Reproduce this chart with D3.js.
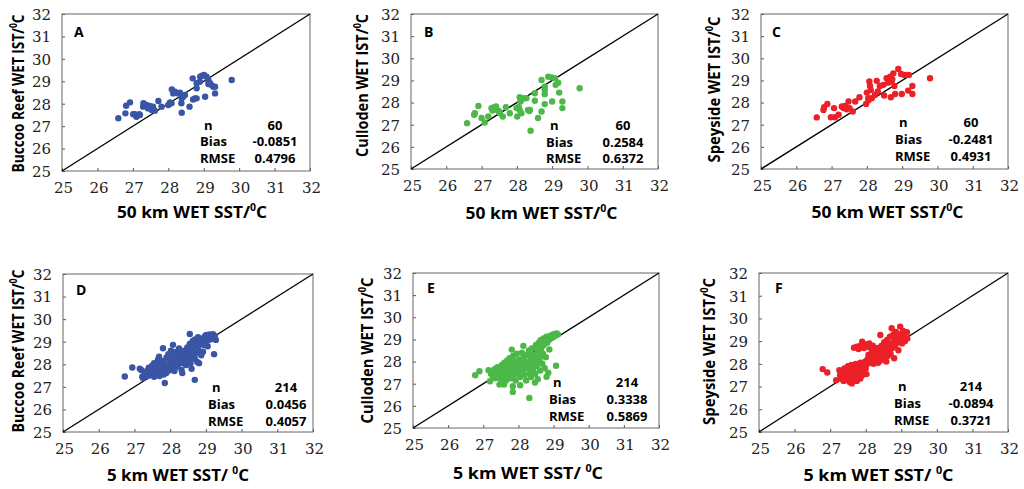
<!DOCTYPE html>
<html>
<head>
<meta charset="utf-8">
<script src="https://cdn.jsdelivr.net/npm/d3@7"></script>
<style>
  body { margin:0; background:#fff; }
  .lab { font-family:"Open Sans", sans-serif; font-weight:bold; fill:#000; }
</style>
</head>
<body>
<div class="canvas"></div>
<script>
/* scatter of in situ vs satellite WET temperatures, 6 panels */

var ticks = [25,26,27,28,29,30,31,32];
var letters = ["A","B","C","D","E","F"];
var yTitles = ["Buccoo Reef WET IST/","Culloden WET IST/","Speyside WET IST/",
               "Buccoo Reef WET IST/","Culloden WET IST/","Speyside WET IST/"];
var xTitles = ["50 km WET SST/","50 km WET SST/","50 km WET SST/",
               "5 km WET SST/ ","5 km WET SST/ ","5 km WET SST/ "];
var nVals = ["60","60","60","214","214","214"];
var biasVals = ["-0.0851","0.2584","-0.2481","0.0456","0.3338","-0.0894"];
var rmseVals = ["0.4796","0.6372","0.4931","0.4057","0.5869","0.3721"];
var colors = ["#3a55a5","#4cb849","#ec2027","#3a55a5","#4cb849","#ec2027"];

var ptsA = [[26.59,27.35],[26.79,27.57],[26.81,27.91],[26.92,28.06],[27.01,27.53],[27.05,27.53],
  [27.10,27.42],[27.18,27.53],[27.20,27.50],[27.30,28.02],[27.29,27.87],[27.34,27.95],[27.39,27.94],
  [27.43,27.79],[27.48,27.82],[27.48,27.90],[27.53,27.72],[27.58,27.72],[27.57,27.87],[27.62,27.69],
  [27.72,28.12],[27.81,27.87],[28.00,27.94],[28.05,28.06],[28.09,28.02],[28.10,28.64],[28.14,28.46],
  [28.19,28.54],[28.28,28.46],[28.33,28.49],[28.38,28.24],[28.38,27.60],[28.37,28.02],[28.42,28.31],
  [28.47,28.39],[28.60,27.87],[28.69,29.13],[28.70,28.19],[28.75,28.24],[28.80,28.69],[28.80,28.91],
  [28.80,28.24],[28.90,29.20],[28.89,28.98],[29.01,29.28],[29.04,28.31],[28.95,29.25],[29.08,29.20],
  [29.13,29.06],[29.13,28.88],[29.18,28.91],[29.22,28.83],[29.27,28.76],[29.32,28.46],[29.32,28.76],
  [29.79,29.06]];

var ptsB = [[26.59,27.07],[26.79,27.45],[26.81,27.52],[26.91,27.85],[27.00,27.30],[27.09,27.10],
  [27.19,27.37],[27.28,27.75],[27.31,27.64],[27.35,27.79],[27.41,27.82],[27.47,27.63],[27.52,27.52],
  [27.60,27.37],[27.69,27.79],[27.80,27.52],[27.99,27.75],[28.01,27.37],[28.08,27.67],[28.08,28.24],
  [28.13,28.12],[28.13,27.52],[28.20,28.20],[28.27,28.20],[28.32,27.67],[28.37,27.67],[28.39,26.73],
  [28.51,28.08],[28.51,28.42],[28.60,27.30],[28.70,29.02],[28.70,27.60],[28.79,28.72],[28.79,28.57],
  [28.79,28.38],[28.79,27.93],[28.89,29.17],[28.98,29.14],[29.00,28.05],[29.08,29.10],[29.10,28.80],
  [29.17,28.90],[29.20,28.45],[29.29,28.05],[29.29,27.75],[29.78,28.65],[27.33,27.70],[28.10,28.05],
  [28.05,27.80],[28.35,27.62],[27.50,27.60]];

var ptsC = [[26.58,27.33],[26.77,27.67],[26.79,27.79],[26.88,27.94],[26.98,27.34],[27.07,27.75],
  [27.10,27.34],[27.20,27.45],[27.29,27.82],[27.34,27.75],[27.38,27.85],[27.43,27.70],[27.48,28.05],
  [27.51,27.75],[27.60,27.60],[27.67,28.05],[27.79,28.24],[27.98,27.94],[28.00,28.45],[28.04,28.20],
  [28.07,28.95],[28.09,28.75],[28.11,28.57],[28.14,28.20],[28.23,28.35],[28.28,28.98],[28.31,28.50],
  [28.37,28.75],[28.47,28.80],[28.49,28.32],[28.56,29.10],[28.66,29.17],[28.68,28.24],[28.70,28.95],
  [28.75,29.32],[28.78,28.75],[28.80,28.39],[28.89,29.52],[28.99,28.39],[28.97,29.29],[29.06,29.25],
  [29.13,29.25],[29.19,29.25],[29.17,28.54],[29.29,28.75],[29.29,28.39],[29.79,29.10],[27.40,27.80],
  [28.05,28.10],[28.60,28.90],[28.72,29.05]];

var ptsD = [[26.73,27.46],[26.94,27.86],[27.15,27.80],[27.19,27.75],[27.22,27.45],[27.24,27.39],
  [27.28,27.55],[27.30,27.62],[27.33,27.53],[27.35,27.70],[27.38,27.48],[27.40,27.85],[27.42,27.62],
  [27.45,27.75],[27.48,27.55],[27.50,27.95],[27.52,27.75],[27.55,27.45],[27.55,28.05],[27.58,27.65],
  [27.60,27.85],[27.62,27.97],[27.65,27.55],[27.66,28.20],[27.68,27.75],[27.69,28.34],[27.70,27.48],
  [27.72,28.00],[27.75,27.65],[27.78,27.90],[27.80,28.71],[27.80,28.15],[27.82,27.55],[27.85,27.17],
  [27.85,28.05],[27.88,27.80],[27.89,27.61],[27.90,28.30],[27.92,27.95],[27.95,28.45],[27.97,27.72],
  [27.99,27.97],[28.00,28.20],[28.02,28.60],[28.05,27.85],[28.08,28.86],[28.08,28.35],[28.10,28.05],
  [28.12,27.70],[28.13,28.34],[28.15,28.55],[28.18,28.15],[28.20,27.90],[28.22,28.40],[28.25,28.70],
  [28.27,28.56],[28.28,28.05],[28.30,28.25],[28.32,27.75],[28.34,27.61],[28.35,28.45],[28.38,28.15],
  [28.40,28.60],[28.42,28.00],[28.45,27.97],[28.45,28.35],[28.48,28.75],[28.50,28.20],[28.52,28.55],
  [28.55,29.34],[28.55,28.90],[28.57,28.05],[28.58,28.40],[28.59,28.93],[28.60,27.80],[28.62,28.65],
  [28.64,29.05],[28.65,28.25],[28.67,28.80],[28.69,27.31],[28.69,28.27],[28.70,29.10],[28.72,28.50],
  [28.75,28.90],[28.76,28.10],[28.78,29.20],[28.80,28.60],[28.81,28.05],[28.83,28.86],[28.85,29.15],
  [28.87,28.40],[28.88,29.00],[28.92,28.56],[28.94,29.15],[28.95,28.85],[28.98,29.25],[29.01,29.30],
  [29.03,29.05],[29.05,28.80],[29.08,29.20],[29.10,29.32],[29.12,29.10],[29.15,29.23],[29.18,29.30],
  [29.20,29.33],[29.23,28.45],[29.25,29.25],[29.28,29.08]];

var ptsE = [[26.77,27.38],[26.89,27.56],[27.15,27.61],[27.19,27.11],[27.27,27.31],[27.46,26.96],
  [27.59,26.96],[27.81,28.54],[27.84,26.89],[27.84,26.63],[28.05,26.93],[28.14,28.71],[28.31,26.36],
  [28.38,28.59],[28.47,27.05],[28.80,27.31],[28.85,27.50],[29.07,27.81],
  [27.22,27.45],[27.25,27.55],[27.30,27.40],[27.32,27.65],[27.35,27.25],[27.38,27.50],[27.40,27.75],
  [27.42,27.35],[27.45,27.60],[27.48,27.76],[27.50,27.20],[27.50,27.45],[27.53,27.85],[27.55,27.60],
  [27.58,27.35],[27.60,27.95],[27.62,27.70],[27.65,27.15],[27.65,27.50],[27.68,28.05],[27.70,27.80],
  [27.72,27.40],[27.75,27.65],[27.75,28.15],[27.78,27.25],[27.80,27.90],[27.82,27.55],[27.85,28.25],
  [27.85,27.75],[27.88,27.40],[27.90,28.00],[27.92,27.15],[27.95,27.70],[27.95,28.35],[27.98,27.85],
  [28.00,27.50],[28.02,28.10],[28.05,27.68],[28.05,27.30],[28.08,27.95],[28.10,28.40],[28.12,27.60],
  [28.15,27.80],[28.15,28.20],[28.18,27.40],[28.20,28.00],[28.22,27.15],[28.25,28.30],[28.25,27.70],
  [28.28,27.90],[28.30,28.50],[28.32,27.50],[28.35,28.10],[28.36,27.30],[28.38,27.85],[28.40,28.30],
  [28.42,27.65],[28.45,28.60],[28.45,28.00],[28.48,27.45],[28.50,28.75],[28.50,28.20],[28.52,27.80],
  [28.55,28.45],[28.55,27.20],[28.58,28.85],[28.60,28.05],[28.61,28.21],[28.62,27.60],[28.63,28.97],
  [28.65,28.60],[28.68,27.90],[28.70,28.35],[28.71,29.04],[28.72,28.75],[28.75,27.70],[28.75,28.95],
  [28.78,28.20],[28.80,29.12],[28.82,28.85],[28.85,29.00],[28.88,28.55],[28.90,29.16],[28.93,29.05],
  [28.96,29.20],[28.99,29.22],[29.02,29.15],[29.05,29.25],[29.09,29.27],[29.12,29.22]];

var ptsF = [[26.79,27.77],[26.92,27.62],[27.17,27.28],[27.26,27.72],[27.28,27.50],[27.30,27.35],
  [27.35,27.60],[27.38,27.25],[27.40,27.80],[27.42,27.45],[27.45,27.65],[27.48,27.30],[27.50,27.90],
  [27.52,27.55],[27.55,27.75],[27.55,27.20],[27.58,27.45],[27.60,27.95],[27.61,27.14],[27.62,27.65],
  [27.65,27.35],[27.68,27.80],[27.70,27.55],[27.72,28.00],[27.75,27.25],[27.75,27.70],[27.78,27.45],
  [27.80,27.90],[27.82,27.60],[27.85,27.35],[27.85,28.05],[27.88,27.75],[27.90,27.50],[27.92,27.95],
  [27.95,27.65],[27.98,28.10],[28.00,27.80],[28.02,27.55],[28.05,28.00],
  [27.67,28.71],[27.75,28.75],[27.80,28.65],[27.85,28.80],[27.90,28.98],[27.95,28.70],[28.00,28.85],
  [28.05,28.75],[28.10,28.90],[28.15,28.70],[28.20,28.80],
  [28.05,28.20],[28.08,28.40],[28.10,28.05],[28.12,28.30],[28.15,28.15],[28.18,28.50],[28.20,28.25],
  [28.22,28.00],[28.25,28.40],[28.28,28.60],[28.30,28.20],[28.32,28.45],[28.35,28.05],[28.35,28.70],
  [28.38,28.35],[28.40,28.55],[28.41,29.27],[28.42,28.15],[28.45,28.80],[28.45,28.40],[28.48,28.60],
  [28.50,28.25],[28.52,28.95],[28.52,28.45],[28.55,28.70],[28.58,28.10],[28.58,28.50],[28.60,29.05],
  [28.62,28.35],[28.63,28.80],[28.65,28.60],[28.68,29.20],[28.70,28.45],[28.72,28.90],[28.73,29.57],
  [28.75,28.70],[28.78,29.30],[28.80,28.25],[28.80,29.05],[28.83,28.80],[28.85,29.40],[28.88,29.15],
  [28.90,28.95],[28.92,28.60],[28.95,29.30],[28.97,29.64],[29.00,29.10],[29.02,28.90],[29.05,29.45],
  [29.08,29.20],[29.10,29.00],[29.16,29.39],[29.17,29.12]];

var points = [ptsA, ptsB, ptsC, ptsD, ptsE, ptsF];

// panel boxes and text placement
var layout = [
  {l:62, t:14, w:248, h:157, yt:-38, yc:1,  ytl:158, xc:6,   xtl:150, xb:204, lx:12, ly:23, sx:138, vx:213, rows:[116,132,149]},
  {l:411,t:14, w:247, h:155, yt:-43, yc:-6, ytl:143, xc:7,   xtl:152, xb:205, lx:13, ly:23, sx:135, vx:212, rows:[116,133,149]},
  {l:761,t:14, w:247, h:155, yt:-41, yc:-2, ytl:146, xc:3,   xtl:152, xb:204, lx:11, ly:23, sx:134, vx:210, rows:[113,130,147]},
  {l:63, t:274,w:250, h:158, yt:-39, yc:-2, ytl:163, xc:-10, xtl:142, xb:207, lx:13, ly:21, sx:145, vx:223, rows:[118,135,152]},
  {l:413,t:273,w:246, h:155, yt:-40, yc:0,  ytl:146, xc:-8,  xtl:150, xb:206, lx:14, ly:20, sx:136, vx:214, rows:[114,131,148]},
  {l:759,t:273,w:249, h:159, yt:-44, yc:-1, ytl:147, xc:-5,  xtl:150, xb:208, lx:16, ly:20, sx:135, vx:212, rows:[118,135,152]}
];

var svg = d3.select('.canvas')
    .append('svg')
    .attr('width',1024)
    .attr('height',489);

layout.forEach(function(p,i){
    var g = svg.append('g')
        .attr('transform','translate('+p.l+','+p.t+')');

    var x = d3.scaleLinear().domain([25,32]).range([0,p.w]);
    var y = d3.scaleLinear().domain([25,32]).range([p.h,0]);

    var xAxis = g.append('g')
        .attr('transform','translate(0,'+p.h+')')
        .call(d3.axisBottom(x).tickValues(ticks).tickFormat(d3.format('d'))
              .tickSizeInner(-3).tickSizeOuter(0));
    xAxis.select('.domain').remove();
    xAxis.selectAll('text').attr('dy',null).attr('y',22).attr('x',1);

    var yAxis = g.append('g')
        .call(d3.axisLeft(y).tickValues(ticks).tickFormat(d3.format('d'))
              .tickSizeInner(-3).tickSizeOuter(0));
    yAxis.select('.domain').remove();
    yAxis.selectAll('text').attr('x',-11).attr('dy','0.36em');

    g.selectAll('.tick line').attr('stroke','#555');
    g.selectAll('.tick text')
        .style('font-family','"DejaVu Serif", serif')
        .style('font-size','15px')
        .style('fill','#222');

    g.append('rect')
        .attr('width',p.w)
        .attr('height',p.h)
        .style('fill','none')
        .style('stroke','#666')
        .style('stroke-width',1);

    g.append('line')
        .attr('x1',x(25)).attr('y1',y(25))
        .attr('x2',x(32)).attr('y2',y(32))
        .style('stroke','#000')
        .style('stroke-width',1.3);

    g.append('g').selectAll('circle')
        .data(points[i])
        .enter()
        .append('circle')
        .attr('cx',function(d){return x(d[0])})
        .attr('cy',function(d){return y(d[1])})
        .attr('r',3.2)
        .style('fill',colors[i]);

    g.append('text')
        .attr('class','lab')
        .attr('x',p.lx).attr('y',p.ly)
        .style('font-size','14px')
        .text(letters[i]);

    // stats block
    var names = ['n','Bias','RMSE'];
    var vals = [nVals[i], biasVals[i], rmseVals[i]];
    names.forEach(function(nm,k){
        g.append('text')
            .attr('class','lab')
            .attr('x',p.sx + (k==0 ? 4 : 0))
            .attr('y',p.rows[k])
            .style('font-size','13px')
            .text(nm);
        g.append('text')
            .attr('class','lab')
            .attr('x',p.vx)
            .attr('y',p.rows[k])
            .attr('text-anchor','middle')
            .style('font-size','13px')
            .text(vals[k]);
    });

    // x title
    var xt = g.append('text')
        .attr('class','lab')
        .attr('x',p.w/2 + p.xc)
        .attr('y',p.xb)
        .attr('text-anchor','middle')
        .attr('textLength',p.xtl)
        .attr('lengthAdjust','spacingAndGlyphs')
        .style('font-size','16.5px');
    xt.append('tspan').text(xTitles[i]);
    xt.append('tspan').attr('dy',-7).style('font-size','10px').text('0');
    xt.append('tspan').attr('dy',7).text('C');

    // y title
    var yt = g.append('text')
        .attr('class','lab')
        .attr('transform','translate('+p.yt+','+(p.h/2 + p.yc)+') rotate(-90)')
        .attr('text-anchor','middle')
        .attr('textLength',p.ytl)
        .attr('lengthAdjust','spacingAndGlyphs')
        .style('font-size','16px');
    yt.append('tspan').text(yTitles[i]);
    yt.append('tspan').attr('dy',-7).style('font-size','10px').text('0');
    yt.append('tspan').attr('dy',7).text('C');
});
</script>
</body>
</html>
